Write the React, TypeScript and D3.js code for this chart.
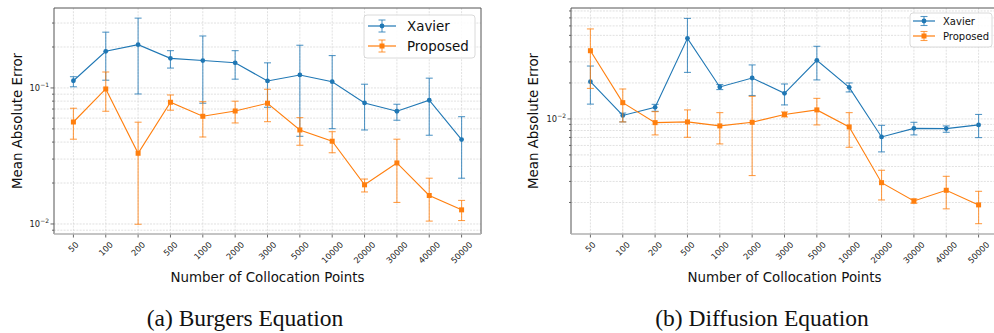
import React from 'react';
import * as d3 from 'd3';

const categories = ['50', '100', '200', '500', '1000', '2000', '3000', '5000', '10000', '20000', '30000', '40000', '50000'];

// (a) Burgers
const burgersXavier = [0.113, 0.186, 0.208, 0.165, 0.159, 0.153, 0.1126, 0.1246, 0.1112, 0.0776, 0.0674, 0.0812, 0.0417];
const burgersXavierLo = [0.102, 0.114, 0.0903, 0.14, 0.0772, 0.116, 0.0721, 0.0441, 0.0502, 0.0491, 0.0579, 0.0449, 0.0217];
const burgersXavierHi = [0.121, 0.257, 0.326, 0.188, 0.241, 0.188, 0.153, 0.206, 0.173, 0.1065, 0.0759, 0.118, 0.0615];
const burgersProposed = [0.0562, 0.0983, 0.0331, 0.0785, 0.0619, 0.0677, 0.0772, 0.0491, 0.0406, 0.0194, 0.0281, 0.0162, 0.0127];
const burgersProposedLo = [0.042, 0.0674, 0.00995, 0.0686, 0.0436, 0.0553, 0.0565, 0.0379, 0.0334, 0.0172, 0.0144, 0.0105, 0.0106];
const burgersProposedHi = [0.0709, 0.131, 0.056, 0.0888, 0.0793, 0.0799, 0.0978, 0.0605, 0.0477, 0.0214, 0.042, 0.0217, 0.0149];

// (b) Diffusion
const diffusionXavier = [0.0205, 0.0107, 0.0125, 0.0472, 0.0185, 0.022, 0.01637, 0.0309, 0.01837, 0.00707, 0.00834, 0.0083, 0.00891];
const diffusionXavierLo = [0.0133, 0.00944, 0.01158, 0.0245, 0.0176, 0.0157, 0.0131, 0.0212, 0.01682, 0.0053, 0.00735, 0.00773, 0.00698];
const diffusionXavierHi = [0.0277, 0.0112, 0.01324, 0.0693, 0.0194, 0.0283, 0.0196, 0.0405, 0.02, 0.00884, 0.00937, 0.00874, 0.0109];
const diffusionProposed = [0.0372, 0.01368, 0.00931, 0.00944, 0.00874, 0.00937, 0.0109, 0.0119, 0.00857, 0.00293, 0.00206, 0.00253, 0.00191];
const diffusionProposedLo = [0.018, 0.00944, 0.00735, 0.00702, 0.00618, 0.00336, 0.01039, 0.00891, 0.00579, 0.0021, 0.00197, 0.00177, 0.00133];
const diffusionProposedHi = [0.0566, 0.0178, 0.01151, 0.0119, 0.01129, 0.01545, 0.01144, 0.01486, 0.01129, 0.00372, 0.00214, 0.00331, 0.00248];

const BLUE = '#1f77b4';
const ORANGE = '#ff7f0e';
const SANS = 'DejaVu Sans, sans-serif';

const Marker = ({ kind, x, y, color, s }) =>
  kind === 'circle'
    ? <circle cx={x} cy={y} r={s / 2} fill={color} />
    : <rect x={x - s / 2} y={y - s / 2} width={s} height={s} fill={color} />;

const Series = ({ x, y, vals, lo, hi, color, kind }) => {
  const line = d3.line().x((d, i) => x(categories[i])).y(d => y(d));
  return (
    <g>
      <path d={line(vals)} fill="none" stroke={color} strokeWidth={1.1} />
      {vals.map((v, i) => {
        const cx = x(categories[i]);
        return (
          <g key={i} stroke={color} strokeOpacity={0.75} strokeWidth={1.1}>
            <line x1={cx} x2={cx} y1={y(lo[i])} y2={y(hi[i])} />
            <line x1={cx - 3.5} x2={cx + 3.5} y1={y(lo[i])} y2={y(lo[i])} />
            <line x1={cx - 3.5} x2={cx + 3.5} y1={y(hi[i])} y2={y(hi[i])} />
          </g>
        );
      })}
      {vals.map((v, i) => (
        <Marker key={'m' + i} kind={kind} x={x(categories[i])} y={y(v)} color={color} s={kind === 'circle' ? 4.8 : 5} />
      ))}
    </g>
  );
};

const Panel = ({ left, right, domain, majors, data, legend, ylabelX }) => {
  const top = 8, bottom = 234;
  const x = d3.scalePoint().domain(categories).range([left, right]).padding(0.6);
  const y = d3.scaleLog().domain(domain).range([bottom, top]);
  const ticks = y.ticks().filter(t => t >= domain[0] && t <= domain[1]);
  const isMajor = t => majors.includes(t);
  const fs = 8.3;
  return (
    <g>
      {/* grid */}
      {ticks.map((t, i) => (
        <line key={'gy' + i} x1={left} x2={right} y1={y(t)} y2={y(t)} stroke="#d4d4d4" strokeWidth={0.7} strokeDasharray="2 1.2" />
      ))}
      {categories.map(c => (
        <line key={'gx' + c} x1={x(c)} x2={x(c)} y1={top} y2={bottom} stroke="#d4d4d4" strokeWidth={0.7} strokeDasharray="2 1.2" />
      ))}
      {/* y ticks */}
      {ticks.map((t, i) => (
        <line key={'ty' + i} x1={left - (isMajor(t) ? 3.5 : 2)} x2={left} y1={y(t)} y2={y(t)} stroke="#444" strokeWidth={0.8} />
      ))}
      {majors.map(t => (
        <text key={'ly' + t} x={left - 5} y={y(t)} dy="0.35em" textAnchor="end" fontFamily={SANS} fontSize={fs} fill="#222">
          10<tspan fontSize={6} dy="-4">−{Math.round(-Math.log10(t))}</tspan>
        </text>
      ))}
      {/* x ticks */}
      {categories.map(c => {
        const ext = (c.length * 0.636 * fs + 0.73 * fs) * 0.707;
        return (
          <g key={'tx' + c}>
            <line x1={x(c)} x2={x(c)} y1={bottom} y2={bottom + 3.5} stroke="#444" strokeWidth={0.8} />
            <text transform={`translate(${x(c)},${241 + ext / 2}) rotate(-45)`} textAnchor="middle" dy="0.36em" fontFamily={SANS} fontSize={fs} fill="#222">{c}</text>
          </g>
        );
      })}
      {/* series */}
      <Series x={x} y={y} vals={data[0]} lo={data[1]} hi={data[2]} color={BLUE} kind="circle" />
      <Series x={x} y={y} vals={data[3]} lo={data[4]} hi={data[5]} color={ORANGE} kind="square" />
      {/* spines */}
      <line x1={left} x2={left} y1={top} y2={bottom} stroke="#555" strokeWidth={1} />
      <line x1={left} x2={right} y1={top} y2={top} stroke="#555" strokeWidth={1} />
      <line x1={right} x2={right} y1={top} y2={bottom} stroke="#555" strokeWidth={1} />
      <line x1={left} x2={right} y1={bottom} y2={bottom} stroke="#b0b0b0" strokeWidth={1.6} />
      {/* labels */}
      <text transform={`translate(${ylabelX},121) rotate(-90)`} textAnchor="middle" dy="0.35em" fontFamily={SANS} fontSize={13.4} fill="#111">Mean Absolute Error</text>
      <text x={(left + right) / 2} y={282} textAnchor="middle" fontFamily={SANS} fontSize={13.4} fill="#111">Number of Collocation Points</text>
      {/* legend */}
      <g>
        <rect x={legend.x} y={legend.y} width={legend.w} height={legend.h} rx={3} fill="white" fillOpacity={0.85} stroke="#d0d0d0" strokeWidth={0.8} />
        {[['Xavier', BLUE, 'circle'], ['Proposed', ORANGE, 'square']].map(([name, col, kind], i) => {
          const ry = legend.y + legend.row0 + i * legend.gap;
          const mx = (legend.sx0 + legend.sx1) / 2;
          const e = legend.err;
          return (
            <g key={name}>
              <line x1={legend.sx0} x2={legend.sx1} y1={ry} y2={ry} stroke={col} strokeWidth={1.2} />
              <g stroke={col} strokeOpacity={0.75} strokeWidth={1.1}>
                <line x1={mx} x2={mx} y1={ry - e} y2={ry + e} />
                <line x1={mx - 3.5} x2={mx + 3.5} y1={ry - e} y2={ry - e} />
                <line x1={mx - 3.5} x2={mx + 3.5} y1={ry + e} y2={ry + e} />
              </g>
              <Marker kind={kind} x={mx} y={ry} color={col} s={kind === 'circle' ? 4.8 : 5} />
              <text x={legend.tx} y={ry} dy="0.35em" fontFamily={SANS} fontSize={legend.fs} fill="#111">{name}</text>
            </g>
          );
        })}
      </g>
    </g>
  );
};

export default function App() {
  return (
    <svg width={994} height={333} style={{ position: 'absolute', left: 0, top: 0, background: 'white' }}>
      <rect width={994} height={333} fill="white" />
      <Panel
        left={54} right={481} domain={[0.00844, 0.387]} majors={[0.01, 0.1]} ylabelX={17}
        data={[burgersXavier, burgersXavierLo, burgersXavierHi, burgersProposed, burgersProposedLo, burgersProposedHi]}
        legend={{ x: 364, y: 15, w: 111, h: 43, row0: 11, gap: 20, sx0: 368, sx1: 396, tx: 407, fs: 13.4, err: 6 }}
      />
      <Panel
        left={571} right={998} domain={[0.00109, 0.0847]} majors={[0.01]} ylabelX={533}
        data={[diffusionXavier, diffusionXavierLo, diffusionXavierHi, diffusionProposed, diffusionProposedLo, diffusionProposedHi]}
        legend={{ x: 910, y: 13, w: 82, h: 34, row0: 8, gap: 15, sx0: 913, sx1: 935, tx: 943, fs: 10, err: 4.5 }}
      />
      <text x={245} y={326} textAnchor="middle" fontFamily="Liberation Serif, Times New Roman, serif" fontSize={23.5} fill="#111">(a) Burgers Equation</text>
      <text x={762} y={326} textAnchor="middle" fontFamily="Liberation Serif, Times New Roman, serif" fontSize={23.5} fill="#111">(b) Diffusion Equation</text>
    </svg>
  );
}
